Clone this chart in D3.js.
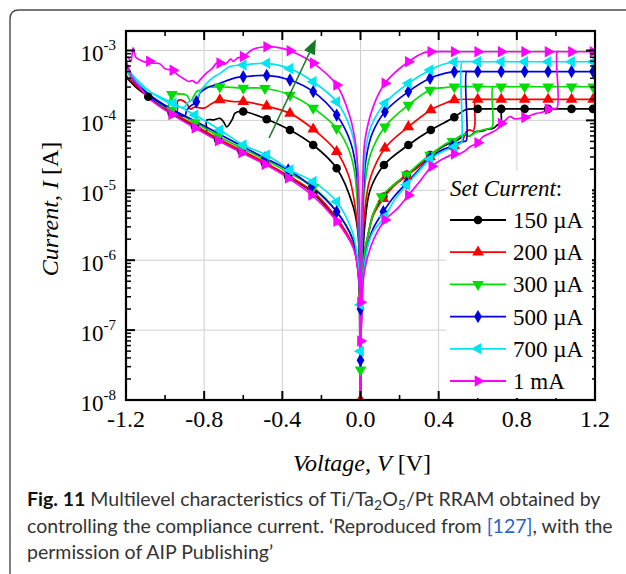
<!DOCTYPE html>
<html><head><meta charset="utf-8">
<script src="https://cdn.jsdelivr.net/npm/d3@7/dist/d3.min.js"></script>
<style>body{margin:0;background:#fff}svg{display:block}</style>
</head><body><svg id="c" width="626" height="574"></svg>
<script>
// ---------- data ----------
const xTicks = [-1.2, -0.8, -0.4, 0.0, 0.4, 0.8, 1.2];
const xMinor = [-1.0, -0.6, -0.2, 0.2, 0.6, 1.0];
const yExps = [-8, -7, -6, -5, -4, -3];
const legendLabels = ['150 µA', '200 µA', '300 µA', '500 µA', '700 µA', '1 mA'];
// [V, |I| (A), marker flag]
const s150 = [[0,1e-8,0],[0.006,2.5e-7,0],[0.014,8.1e-7,0],[0.023,1.4e-6,0],[0.04,2.4e-6,0],[0.066,4.7e-6,0],[0.117,8.1e-6,1],[0.17,1.2e-5,0],[0.236,1.66e-5,1],[0.3,2.3e-5,0],[0.356,3.2e-5,1],[0.42,4.2e-5,0],[0.458,4.75e-5,0],[0.5,5.3e-5,0],[0.53,6.2e-5,0],[0.56,6.0e-5,0],[0.59,6.9e-5,0],[0.62,7.0e-5,0],[0.65,7.5e-5,0],[0.68,7.7e-5,0],[0.70,8.6e-5,0],[0.715,9.2e-5,0],[0.72,9.5e-5,0],[0.722,1.46e-4,0],[0.73,1.46e-4,0],[1.2,1.46e-4,0],
 [1.19,1.46e-4,1],[1.08,1.46e-4,1],[0.96,1.46e-4,1],[0.84,1.46e-4,1],[0.72,1.46e-4,1],[0.60,1.46e-4,1],[0.54,1.43e-4,0],[0.48,1.11e-4,1],[0.36,7.3e-5,1],[0.245,4.45e-5,1],[0.12,2.3e-5,1],[0.049,1.0e-5,0],[0.023,3.4e-6,0],[0.014,1.4e-6,0],[0.006,4e-7,0],[0,1e-8,0],
 [-0.006,4e-7,0],[-0.011,2.2e-6,0],[-0.037,5.8e-6,0],[-0.122,2.07e-5,1],[-0.242,4.45e-5,1],[-0.361,7.3e-5,1],[-0.48,1.04e-4,1],[-0.6,1.34e-4,1],[-0.642,1.27e-4,0],[-0.655,1.05e-4,0],[-0.685,8.1e-5,0],[-0.70,9.5e-5,0],[-0.719,1.07e-4,0],[-0.75,1.02e-4,0],[-0.787,1.01e-4,0],[-0.79,6.8e-5,0],[-0.847,8.2e-5,0],[-0.966,1.27e-4,0],[-1.086,2.2e-4,0],[-1.15,3.0e-4,0],[-1.2,4.2e-4,0],
 [-1.14,2.9e-4,0],[-1.086,2.18e-4,1],[-0.966,1.26e-4,1],[-0.847,8.1e-5,1],[-0.728,5.25e-5,1],[-0.608,3.57e-5,1],[-0.489,2.43e-5,1],[-0.37,1.57e-5,1],[-0.242,9.06e-6,1],[-0.122,3.76e-6,0],[-0.037,1.56e-6,0],[-0.013,7.2e-7,0],[0,1e-8,0]];
const s200 = [[0,1e-8,1],[0.006,2.2e-7,0],[0.014,7.5e-7,0],[0.023,1.3e-6,0],[0.04,2.3e-6,0],[0.066,4.4e-6,0],[0.117,7.6e-6,1],[0.17,1.15e-5,0],[0.236,1.6e-5,1],[0.3,2.2e-5,0],[0.356,3.0e-5,1],[0.42,3.8e-5,0],[0.48,4.3e-5,1],[0.52,5.0e-5,0],[0.54,6.8e-5,0],[0.56,7.3e-5,0],[0.575,7.0e-5,0],[0.585,8.5e-5,0],[0.588,2.0e-4,0],[0.6,2.0e-4,0],[1.2,2.0e-4,0],
 [1.19,2.0e-4,1],[1.08,2.0e-4,1],[0.96,2.0e-4,1],[0.84,2.0e-4,1],[0.72,2.0e-4,1],[0.60,2.0e-4,1],[0.48,1.96e-4,1],[0.42,1.7e-4,0],[0.36,1.41e-4,1],[0.245,8.1e-5,1],[0.125,4.0e-5,1],[0.05,1.5e-5,0],[0.023,5.5e-6,0],[0.012,2e-6,0],[0.005,5e-7,0],[0,1e-8,0],
 [-0.005,5e-7,0],[-0.012,2.5e-6,0],[-0.028,6e-6,0],[-0.06,1.6e-5,0],[-0.122,3.57e-5,1],[-0.242,7.5e-5,1],[-0.361,1.26e-4,1],[-0.48,1.6e-4,1],[-0.6,1.85e-4,1],[-0.65,1.85e-4,0],[-0.72,1.96e-4,1],[-0.76,1.75e-4,0],[-0.80,1.5e-4,0],[-0.85,1.55e-4,0],[-0.87,1.45e-4,0],[-0.89,1.75e-4,0],[-0.92,1.96e-4,0],[-0.935,1.9e-4,0],[-0.94,1.33e-4,0],[-1.0,1.6e-4,0],[-1.1,2.4e-4,0],[-1.2,4.4e-4,0],
 [-1.14,3.0e-4,0],[-1.086,2.25e-4,0],[-0.966,1.32e-4,0],[-0.847,8.5e-5,0],[-0.728,5.5e-5,0],[-0.608,3.7e-5,0],[-0.489,2.5e-5,0],[-0.37,1.62e-5,0],[-0.242,9.5e-6,0],[-0.122,4.0e-6,0],[-0.037,1.6e-6,0],[-0.013,7.5e-7,0],[0,1e-8,0]];
const s300 = [[0,2.7e-8,1],[0.006,3e-7,0],[0.014,8.1e-7,0],[0.023,1.4e-6,0],[0.04,2.4e-6,0],[0.066,4.7e-6,0],[0.108,8.1e-6,1],[0.17,1.2e-5,0],[0.236,1.66e-5,1],[0.3,2.4e-5,0],[0.356,3.2e-5,1],[0.441,4.7e-5,0],[0.47,5.0e-5,1],[0.5,5.8e-5,0],[0.53,6.3e-5,0],[0.56,6.0e-5,0],[0.595,6.9e-5,0],[0.627,7.3e-5,0],[0.663,7.7e-5,0],[0.675,8.1e-5,0],[0.677,3.03e-4,0],[0.69,3.03e-4,0],[1.2,3.03e-4,0],
 [1.19,3.03e-4,1],[1.08,3.03e-4,1],[0.96,3.03e-4,1],[0.84,3.03e-4,1],[0.72,3.03e-4,1],[0.60,3.03e-4,1],[0.48,3.03e-4,1],[0.43,2.95e-4,0],[0.356,2.72e-4,1],[0.245,1.66e-4,1],[0.125,8.1e-5,1],[0.05,3.2e-5,0],[0.023,1.2e-5,0],[0.01,3e-6,0],[0.004,5e-7,0],[0,1e-8,0],
 [-0.004,6e-7,0],[-0.01,3e-6,0],[-0.03,1.8e-5,0],[-0.06,3.8e-5,0],[-0.122,7.7e-5,1],[-0.242,1.5e-4,1],[-0.361,2.31e-4,1],[-0.489,2.88e-4,1],[-0.6,2.9e-4,1],[-0.72,3.03e-4,1],[-0.75,3.0e-4,0],[-0.787,3.03e-4,0],[-0.82,2.7e-4,0],[-0.838,2.6e-4,0],[-0.87,1.9e-4,0],[-0.89,2.3e-4,0],[-0.94,2.4e-4,0],[-0.965,2.35e-4,1],[-0.99,1.55e-4,0],[-1.1,2.6e-4,0],[-1.2,5.3e-4,0],
 [-1.15,3.4e-4,0],[-1.086,2.3e-4,0],[-0.966,1.4e-4,1],[-0.847,9.3e-5,1],[-0.728,6.0e-5,1],[-0.608,4.0e-5,1],[-0.489,2.75e-5,1],[-0.37,1.8e-5,1],[-0.242,1.1e-5,1],[-0.122,5.0e-6,0],[-0.04,2.0e-6,0],[-0.015,9e-7,0],[0,1.5e-7,0]];
const s500 = [[0,3.7e-8,1],[0.006,2.2e-7,0],[0.014,5.8e-7,0],[0.023,1.0e-6,0],[0.04,1.8e-6,0],[0.066,2.9e-6,0],[0.117,4.94e-6,1],[0.17,8e-6,0],[0.236,1.27e-5,1],[0.3,2.0e-5,0],[0.356,2.9e-5,1],[0.42,3.8e-5,0],[0.47,4.3e-5,1],[0.5,4.8e-5,0],[0.53,5.0e-5,0],[0.541,5.1e-5,0],[0.543,5.0e-4,0],[0.555,5.0e-4,0],[1.2,5.0e-4,0],
 [1.19,5.0e-4,1],[1.08,5.0e-4,1],[0.96,5.0e-4,1],[0.84,5.0e-4,1],[0.72,5.0e-4,1],[0.60,5.0e-4,1],[0.48,4.97e-4,1],[0.43,4.7e-4,0],[0.356,4.0e-4,1],[0.245,2.58e-4,1],[0.125,1.33e-4,1],[0.06,6.5e-5,0],[0.03,3.0e-5,0],[0.015,1.0e-5,0],[0.006,1.5e-6,0],[0.002,2e-7,0],[0,1e-8,0],
 [-0.003,4e-7,0],[-0.008,3e-6,0],[-0.02,1.8e-5,0],[-0.05,4.8e-5,0],[-0.122,1.19e-4,1],[-0.242,2.58e-4,1],[-0.361,3.79e-4,1],[-0.48,4.4e-4,1],[-0.6,4.2e-4,1],[-0.65,4.0e-4,0],[-0.719,3.4e-4,0],[-0.787,2.9e-4,0],[-0.82,2.5e-4,0],[-0.84,1.85e-4,1],[-0.87,1.6e-4,0],[-0.889,1.41e-4,0],[-0.9,1.15e-4,0],[-1.0,1.6e-4,0],[-1.1,2.5e-4,0],[-1.17,4e-4,0],[-1.2,6.5e-4,0],
 [-1.15,3.5e-4,0],[-1.086,2.4e-4,0],[-0.966,1.45e-4,0],[-0.847,9.8e-5,0],[-0.728,6.5e-5,0],[-0.608,4.3e-5,0],[-0.489,2.9e-5,1],[-0.37,1.95e-5,1],[-0.25,1.13e-5,1],[-0.122,4.94e-6,1],[-0.04,2.0e-6,0],[-0.015,9e-7,0],[0,2.0e-7,1]];
const s700 = [[0,5e-8,1],[0.006,2e-7,0],[0.014,5.5e-7,0],[0.023,9.5e-7,0],[0.04,1.7e-6,0],[0.066,2.6e-6,0],[0.125,4.2e-6,1],[0.17,7e-6,0],[0.236,1.2e-5,1],[0.3,1.9e-5,0],[0.356,2.8e-5,1],[0.42,3.6e-5,0],[0.48,4.2e-5,1],[0.51,4.7e-5,0],[0.517,4.8e-5,0],[0.519,6.9e-4,0],[0.53,6.9e-4,0],[1.2,6.9e-4,0],
 [1.19,6.9e-4,1],[1.08,6.9e-4,1],[0.96,6.9e-4,1],[0.84,6.9e-4,1],[0.72,6.9e-4,1],[0.60,6.9e-4,1],[0.48,6.85e-4,1],[0.42,6.3e-4,0],[0.356,5.26e-4,1],[0.245,3.4e-4,1],[0.125,1.76e-4,1],[0.06,9e-5,0],[0.03,4.5e-5,0],[0.015,1.5e-5,0],[0.006,2e-6,0],[0.002,2e-7,0],[0,1e-8,0],
 [-0.003,5e-7,0],[-0.008,5e-6,0],[-0.02,3e-5,0],[-0.05,7.5e-5,0],[-0.122,1.85e-4,1],[-0.242,3.57e-4,1],[-0.361,5.5e-4,1],[-0.48,6.55e-4,1],[-0.6,6.2e-4,1],[-0.668,5.9e-4,0],[-0.719,4.7e-4,0],[-0.76,4.0e-4,0],[-0.787,3.4e-4,0],[-0.82,2.6e-4,0],[-0.838,2.07e-4,0],[-0.87,1.9e-4,0],[-0.889,1.76e-4,0],[-0.9,1.55e-4,0],[-1.0,1.9e-4,0],[-1.1,2.9e-4,0],[-1.2,5.5e-4,0],
 [-1.15,3.6e-4,0],[-1.08,2.6e-4,0],[-0.958,1.76e-4,1],[-0.847,1.19e-4,1],[-0.719,7.3e-5,1],[-0.6,4.45e-5,1],[-0.48,3.2e-5,1],[-0.361,1.95e-5,1],[-0.242,1.33e-5,1],[-0.122,6.87e-6,1],[-0.045,2.7e-6,0],[-0.019,1.27e-6,0],[0,2.3e-7,1]];
const s1m = [[0,7e-8,1],[0.006,1.5e-7,0],[0.014,5.2e-7,0],[0.032,1.0e-6,0],[0.066,1.95e-6,0],[0.125,3.76e-6,1],[0.19,5.5e-6,0],[0.245,8.5e-6,1],[0.3,1.3e-5,0],[0.365,2.2e-5,1],[0.43,2.9e-5,0],[0.48,3.3e-5,1],[0.5,3.3e-5,0],[0.53,3.6e-5,0],[0.56,4.2e-5,0],[0.59,4.6e-5,0],[0.60,4.8e-5,1],[0.627,5.85e-5,0],[0.66,6.5e-5,0],[0.7,7.5e-5,0],[0.72,9.0e-5,1],[0.74,1.0e-4,0],[0.765,1.13e-4,0],[0.79,1.05e-4,0],[0.816,1.07e-4,0],[0.84,1.1e-4,1],[0.86,1.15e-4,0],[0.9,1.26e-4,0],[0.93,1.3e-4,0],[0.96,1.45e-4,1],[0.98,1.49e-4,0],[1.005,1.5e-4,0],[1.007,9.6e-4,0],[1.02,9.6e-4,0],[1.2,9.6e-4,0],
 [1.19,9.6e-4,1],[1.08,9.6e-4,1],[0.96,9.6e-4,1],[0.84,9.6e-4,1],[0.72,9.6e-4,1],[0.60,9.6e-4,1],[0.48,9.6e-4,1],[0.36,9.6e-4,1],[0.33,9.4e-4,0],[0.245,6.9e-4,1],[0.125,3.4e-4,1],[0.066,1.6e-4,0],[0.023,5.25e-5,0],[0.012,1.5e-5,0],[0.006,2.5e-6,0],[0.002,2e-7,0],[0,1e-8,0],
 [-0.003,8e-7,0],[-0.008,8e-6,0],[-0.018,3e-5,0],[-0.028,5.25e-5,0],[-0.054,1.13e-4,0],[-0.122,3.2e-4,1],[-0.242,6.6e-4,1],[-0.361,9.9e-4,1],[-0.42,1.1e-3,0],[-0.48,1.13e-3,1],[-0.55,1.04e-3,0],[-0.6,8.2e-4,1],[-0.63,7.8e-4,0],[-0.65,7.0e-4,0],[-0.665,7.5e-4,0],[-0.68,6.8e-4,0],[-0.70,6.3e-4,0],[-0.72,6.6e-4,1],[-0.736,6.6e-4,0],[-0.76,5.5e-4,0],[-0.79,4.7e-4,0],[-0.821,3.8e-4,0],[-0.838,3.4e-4,0],[-0.86,3.7e-4,0],[-0.88,3.6e-4,0],[-0.908,4.0e-4,0],[-0.94,4.6e-4,0],[-0.96,5.2e-4,1],[-0.975,5.3e-4,0],[-1.0,5.5e-4,0],[-1.03,6.5e-4,0],[-1.062,6.6e-4,0],[-1.08,7.0e-4,1],[-1.1,6.8e-4,0],[-1.128,7.3e-4,0],[-1.15,8e-4,0],[-1.164,1.09e-3,0],[-1.175,7e-4,0],[-1.19,8e-4,0],[-1.2,7.5e-4,0],
 [-1.19,6e-4,0],[-1.17,4.2e-4,0],[-1.13,3.0e-4,0],[-1.086,2.1e-4,0],[-0.966,1.22e-4,1],[-0.847,7.8e-5,1],[-0.728,5.1e-5,1],[-0.608,3.45e-5,1],[-0.489,2.35e-5,1],[-0.37,1.5e-5,1],[-0.25,8.6e-6,1],[-0.122,3.6e-6,1],[-0.037,1.5e-6,0],[-0.013,7e-7,0],[0,2.5e-7,1]];
const arrowFrom = [-0.468, 5.6e-5], arrowTo = [-0.228, 1.45e-3];

// ---------- styles ----------
const colors = ['#000000', '#ff0000', '#00dd00', '#0000dd', '#00e4f4', '#ff00ff'];
const shapes = [[d3.symbolCircle, 0], [d3.symbolTriangle, 0], [d3.symbolTriangle, 180], [d3.symbolDiamond, 0], [d3.symbolTriangle, -90], [d3.symbolTriangle, 90]];
const sizes = [58, 58, 58, 52, 58, 58];
const seriesData = [s150, s200, s300, s500, s700, s1m];

const W = 626, H = 574;
const svg = d3.select('#c');
const L = 126, R = 595, T = 31, B = 400;
const x = d3.scaleLinear().domain([-1.2, 1.2]).range([L, R]);
const y = d3.scaleLog().domain([1e-8, 1.9e-3]).range([B, T]);
const serif = '"Liberation Serif", "Times New Roman", serif';

// outer frame
svg.append('path').attr('d', `M10,${H + 20} L10,19 Q10,10 19,10 L${W + 20},10`)
  .attr('fill', 'none').attr('stroke', '#4a4a4a').attr('stroke-width', 1.4);

// grid
const grid = svg.append('g').attr('stroke', '#cfcfcf').attr('stroke-width', 1);
xTicks.slice(1, -1).forEach(v => grid.append('line').attr('x1', x(v)).attr('x2', x(v)).attr('y1', T).attr('y2', B));
yExps.slice(1).forEach(e => grid.append('line').attr('x1', L).attr('x2', R).attr('y1', y(Math.pow(10, e))).attr('y2', y(Math.pow(10, e))));

// clip
svg.append('defs').append('clipPath').attr('id', 'pa').append('rect').attr('x', L).attr('y', T).attr('width', R - L).attr('height', B - T);
const plot = svg.append('g').attr('clip-path', 'url(#pa)');
const line = d3.line().x(d => x(d[0])).y(d => y(d[1])).curve(d3.curveCatmullRom.alpha(0.5));
seriesData.forEach((data, i) => {
  plot.append('path').attr('d', line(data)).attr('fill', 'none').attr('stroke', colors[i]).attr('stroke-width', 1.7).attr('stroke-linejoin', 'round');
});
seriesData.forEach((data, i) => {
  const sym = d3.symbol().type(shapes[i][0]).size(sizes[i]);
  plot.selectAll(null).data(data.filter(d => d[2])).enter().append('path')
    .attr('d', sym).attr('fill', colors[i])
    .attr('transform', d => `translate(${x(d[0])},${y(d[1])}) rotate(${shapes[i][1]})`);
});

// axes frame + ticks
const ax = svg.append('g').attr('stroke', '#000');
xTicks.forEach(v => { ax.append('line').attr('x1', x(v)).attr('x2', x(v)).attr('y1', B).attr('y2', B - 9).attr('stroke-width', 2);
  ax.append('line').attr('x1', x(v)).attr('x2', x(v)).attr('y1', T).attr('y2', T + 9).attr('stroke-width', 2); });
xMinor.forEach(v => { ax.append('line').attr('x1', x(v)).attr('x2', x(v)).attr('y1', B).attr('y2', B - 5).attr('stroke-width', 1.6);
  ax.append('line').attr('x1', x(v)).attr('x2', x(v)).attr('y1', T).attr('y2', T + 5).attr('stroke-width', 1.6); });
yExps.forEach(e => {
  const yy = y(Math.pow(10, e));
  ax.append('line').attr('x1', L).attr('x2', L + 9).attr('y1', yy).attr('y2', yy).attr('stroke-width', 2);
  ax.append('line').attr('x1', R).attr('x2', R - 9).attr('y1', yy).attr('y2', yy).attr('stroke-width', 2);
  for (let k = 2; k <= 9; k++) {
    const v = k * Math.pow(10, e);
    if (v > 1.9e-3) break;
    const yk = y(v);
    ax.append('line').attr('x1', L).attr('x2', L + 5).attr('y1', yk).attr('y2', yk).attr('stroke-width', 1.5);
    ax.append('line').attr('x1', R).attr('x2', R - 5).attr('y1', yk).attr('y2', yk).attr('stroke-width', 1.5);
  }
});
svg.append('rect').attr('x', L).attr('y', T).attr('width', R - L).attr('height', B - T)
  .attr('fill', 'none').attr('stroke', '#000').attr('stroke-width', 2.2);

// tick labels
xTicks.forEach(v => svg.append('text').attr('x', x(v)).attr('y', 427).attr('text-anchor', 'middle')
  .attr('font-family', serif).attr('font-size', 24).text(v.toFixed(1)));
yExps.forEach(e => {
  const t = svg.append('text').attr('x', 116).attr('y', y(Math.pow(10, e)) + 11).attr('text-anchor', 'end')
    .attr('font-family', serif).attr('font-size', 23);
  t.append('tspan').text('10');
  t.append('tspan').attr('dy', -11).attr('font-size', 15).text(String(e));
});

// axis titles
const yt = svg.append('text').attr('transform', 'translate(58,209) rotate(-90)').attr('text-anchor', 'middle')
  .attr('font-family', serif).attr('font-size', 24);
yt.append('tspan').attr('font-style', 'italic').text('Current, I');
yt.append('tspan').text(' [A]');
const xt = svg.append('text').attr('x', 362).attr('y', 471).attr('text-anchor', 'middle')
  .attr('font-family', serif).attr('font-size', 24);
xt.append('tspan').attr('font-style', 'italic').text('Voltage, V');
xt.append('tspan').text(' [V]');

// legend
svg.append('rect').attr('x', 446).attr('y', 171).attr('width', 146).attr('height', 227).attr('fill', '#fff');
const lg = svg.append('text').attr('x', 450).attr('y', 196).attr('font-family', serif).attr('font-size', 23);
lg.append('tspan').attr('font-style', 'italic').text('Set Current');
lg.append('tspan').text(':');
legendLabels.forEach((lab, i) => {
  const cy = 220 + i * 32.2;
  svg.append('line').attr('x1', 450).attr('x2', 506).attr('y1', cy).attr('y2', cy).attr('stroke', colors[i]).attr('stroke-width', 1.8);
  svg.append('path').attr('d', d3.symbol().type(shapes[i][0]).size(sizes[i])).attr('fill', colors[i])
    .attr('transform', `translate(478,${cy}) rotate(${shapes[i][1]})`);
  svg.append('text').attr('x', 513).attr('y', cy + 8).attr('font-family', serif).attr('font-size', 23).text(lab);
});

// arrow
const ax0 = x(arrowFrom[0]), ay0 = y(arrowFrom[1]), ax1 = x(arrowTo[0]), ay1 = y(arrowTo[1]);
const ang = Math.atan2(ay1 - ay0, ax1 - ax0);
const hl = 15, hw = 6;
const bx = ax1 - hl * Math.cos(ang), by = ay1 - hl * Math.sin(ang);
svg.append('line').attr('x1', ax0).attr('y1', ay0).attr('x2', bx).attr('y2', by).attr('stroke', '#1e7a28').attr('stroke-width', 1.6);
svg.append('path').attr('d', `M${ax1},${ay1} L${bx + hw * Math.sin(ang)},${by - hw * Math.cos(ang)} L${bx - hw * Math.sin(ang)},${by + hw * Math.cos(ang)} Z`)
  .attr('fill', '#137a23');

// caption
const cap = svg.append('g').attr('font-family', 'Lato, "Open Sans", sans-serif').attr('fill', '#333').attr('font-size', 19);
const l1 = cap.append('text').attr('x', 27).attr('y', 506);
l1.append('tspan').attr('font-weight', 'bold').attr('fill', '#111').text('Fig. 11');
l1.append('tspan').text(' Multilevel characteristics of Ti/Ta');
l1.append('tspan').attr('font-size', '72%').attr('dy', 4).text('2');
l1.append('tspan').attr('dy', -4).text('O');
l1.append('tspan').attr('font-size', '72%').attr('dy', 4).text('5');
l1.append('tspan').attr('dy', -4).text('/Pt RRAM obtained by');
const l2 = cap.append('text').attr('x', 27).attr('y', 533);
l2.append('tspan').text('controlling the compliance current. ‘Reproduced from ');
l2.append('tspan').attr('fill', '#2b63c8').text('[127]');
l2.append('tspan').text(', with the');
cap.append('text').attr('x', 27).attr('y', 559).text('permission of AIP Publishing’');
const w2 = l2.node().getComputedTextLength();
if (w2 > 0) cap.attr('font-size', 19 * 586 / w2);
</script></body></html>
